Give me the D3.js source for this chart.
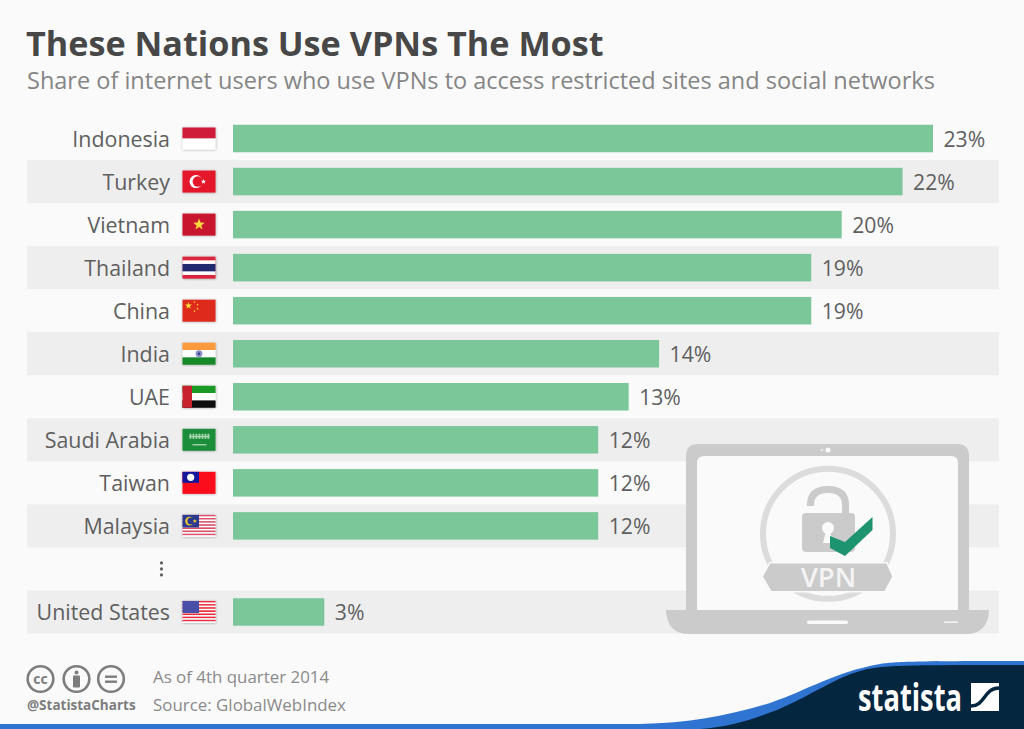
<!DOCTYPE html>
<html>
<head>
<meta charset="utf-8">
<script src="https://cdn.jsdelivr.net/npm/d3@7"></script>
<style>
html, body { margin: 0; padding: 0; background: #fafafa; overflow: hidden; }
svg { display: block; font-family: "Open Sans", sans-serif; }
</style>
</head>
<body>
<svg></svg>
<script>
const size = {w: 1024, h: 729};
const svg = d3.select('svg').attr('width', size.w).attr('height', size.h);

const countries = ['Indonesia', 'Turkey', 'Vietnam', 'Thailand', 'China', 'India', 'UAE',
    'Saudi Arabia', 'Taiwan', 'Malaysia', '...', 'United States'];
const shares = [23, 22, 20, 19, 19, 14, 13, 12, 12, 12, null, 3];
const rows = countries.map((c, i) => ({country: c, share: shares[i], idx: i}));

const titleText = 'These Nations Use VPNs The Most';
const subtitleText = 'Share of internet users who use VPNs to access restricted sites and social networks';
const footerLines = ['As of 4th quarter 2014', 'Source: GlobalWebIndex'];

const grey = '#5f5f5f';
const laptopGrey = '#cbcbcb';
const bgColor = '#fafafa';

// --------- SCALES ----------
const xScale = d3.scaleLinear().domain([0, 23]).range([233, 933]);
const yScale = d3.scaleBand().domain(countries).range([117, 633.5]).paddingInner(0).paddingOuter(0);
const barH = 27.5;

// --------- TITLE ----------
svg.append('text').attr('x', 26).attr('y', 56)
    .attr('font-size', 34.2).attr('font-weight', 700).attr('fill', '#474747')
    .text(titleText);
svg.append('text').attr('x', 27).attr('y', 88.5)
    .attr('font-size', 23.5).attr('fill', '#858585')
    .text(subtitleText);

// --------- ROWS ----------
const stripesG = svg.append('g').classed('stripes', true);
stripesG.selectAll('rect')
    .data(rows.filter(d => d.idx % 2 === 1))
    .join('rect')
    .attr('x', 27)
    .attr('width', 972)
    .attr('y', d => yScale(d.country))
    .attr('height', yScale.bandwidth())
    .attr('fill', '#eeeeee');

const barsG = svg.append('g').classed('bars', true);
barsG.selectAll('rect')
    .data(rows.filter(d => d.share !== null))
    .join('rect')
    .attr('x', xScale(0))
    .attr('width', d => xScale(d.share) - xScale(0))
    .attr('y', d => yScale(d.country) + (yScale.bandwidth() - barH) / 2)
    .attr('height', barH)
    .attr('fill', '#7bc79a');

const mid = d => yScale(d) + yScale.bandwidth() / 2;

svg.append('g').selectAll('text')
    .data(rows.filter(d => d.share !== null))
    .join('text')
    .attr('x', d => xScale(d.share) + 10.5)
    .attr('y', d => mid(d.country) + 8.2)
    .attr('font-size', 21.2)
    .attr('fill', grey)
    .text(d => d.share + '%');

svg.append('g').selectAll('text')
    .data(rows.filter(d => d.share !== null))
    .join('text')
    .attr('x', 170)
    .attr('y', d => mid(d.country) + 8.2)
    .attr('text-anchor', 'end')
    .attr('font-size', 21.4)
    .attr('fill', grey)
    .text(d => d.country);

// the three dots in the skipped row
svg.append('g').selectAll('circle')
    .data([-6, 0, 6])
    .join('circle')
    .attr('cx', 161.5)
    .attr('cy', d => mid('...') + d)
    .attr('r', 1.6)
    .attr('fill', grey);

// --------- FLAGS ----------
const flagW = 33, flagH = 22;
const defs = svg.append('defs');
defs.append('filter').attr('id', 'flagShadow')
    .attr('x', '-10%').attr('y', '-10%').attr('width', '120%').attr('height', '120%')
    .append('feDropShadow').attr('dx', 0.3).attr('dy', 0.3)
    .attr('stdDeviation', 0.8).attr('flood-color', '#000').attr('flood-opacity', 0.35);

function band(g, x, y, w, h, fill) {
    g.append('rect').attr('x', x).attr('y', y).attr('width', w).attr('height', h).attr('fill', fill);
}
function star(g, cx, cy, r, fill) {
    let pts = d3.range(10).map(i => {
        let a = -Math.PI / 2 + i * Math.PI / 5, rr = i % 2 ? r * 0.42 : r;
        return [cx + rr * Math.cos(a), cy + rr * Math.sin(a)];
    });
    g.append('polygon').attr('points', pts.join(' ')).attr('fill', fill);
}
function stripes(g, a, b) {
    d3.range(14).forEach(i => band(g, 0, i * flagH / 14, flagW, flagH / 14, i % 2 ? b : a));
}
const flagDraw = {
    'Indonesia': g => { band(g, 0, 0, flagW, 11, '#cf1b3a'); band(g, 0, 11, flagW, 11, '#ffffff'); },
    'Turkey': g => {
        band(g, 0, 0, flagW, flagH, '#e3152b');
        g.append('circle').attr('cx', 13.5).attr('cy', 11).attr('r', 6.5).attr('fill', '#fff');
        g.append('circle').attr('cx', 15.3).attr('cy', 11).attr('r', 5.2).attr('fill', '#e3152b');
        star(g, 21, 11, 2.6, '#fff');
    },
    'Vietnam': g => { band(g, 0, 0, flagW, flagH, '#c8182f'); star(g, 16.5, 11, 6, '#fbd83a'); },
    'Thailand': g => {
        band(g, 0, 0, flagW, flagH, '#d9273c');
        band(g, 0, 3.7, flagW, 14.6, '#ffffff');
        band(g, 0, 7.3, flagW, 7.4, '#232a6e');
    },
    'China': g => {
        band(g, 0, 0, flagW, flagH, '#de2c1e');
        star(g, 6, 6, 3.6, '#fbd83a');
        [[12, 2.4], [15, 5], [15, 9], [12, 11.5]].forEach(p => star(g, p[0], p[1], 1.2, '#fbd83a'));
    },
    'India': g => {
        band(g, 0, 0, flagW, 7.3, '#fb9a3c');
        band(g, 0, 7.3, flagW, 7.4, '#ffffff');
        band(g, 0, 14.7, flagW, 7.3, '#188a2a');
        g.append('circle').attr('cx', 16.5).attr('cy', 11).attr('r', 3.4).attr('fill', '#8a8fc4');
        g.append('circle').attr('cx', 16.5).attr('cy', 11).attr('r', 1.2).attr('fill', '#2d3a8c');
    },
    'UAE': g => {
        band(g, 0, 0, flagW, 7.3, '#1f9a28');
        band(g, 0, 7.3, flagW, 7.4, '#ffffff');
        band(g, 0, 14.7, flagW, 7.3, '#0a0a0a');
        band(g, 0, 0, 9.5, flagH, '#c8202f');
    },
    'Saudi Arabia': g => {
        band(g, 0, 0, flagW, flagH, '#1e8e3a');
        // blurred script and the sword
        [7, 10, 13, 16, 19, 22, 25].forEach(x => band(g, x, 5, 1.8, 5, '#a6d6ae'));
        band(g, 7, 7, 20, 1.5, '#a6d6ae');
        band(g, 10, 15.5, 14, 1, '#d6ecd9');
    },
    'Taiwan': g => {
        band(g, 0, 0, flagW, flagH, '#fb0f1c');
        band(g, 0, 0, 16.5, 11, '#14149a');
        g.append('circle').attr('cx', 8.2).attr('cy', 5.5).attr('r', 3.6).attr('fill', '#ffffff');
    },
    'Malaysia': g => {
        stripes(g, '#e0506a', '#ffffff');
        band(g, 0, 0, 16.5, 12.5, '#2a3a90');
        g.append('circle').attr('cx', 7).attr('cy', 6.2).attr('r', 4.3).attr('fill', '#f0c832');
        g.append('circle').attr('cx', 8.4).attr('cy', 6.2).attr('r', 3.5).attr('fill', '#2a3a90');
        star(g, 12.3, 6.2, 2.2, '#f0c832');
    },
    'United States': g => {
        stripes(g, '#ee2a3c', '#ffffff');
        band(g, 0, 0, 16.5, 12, '#4a4fa8');
    }
};
const flagsG = svg.append('g').classed('flags', true);
rows.filter(d => flagDraw[d.country]).forEach(d => {
    let g = flagsG.append('g')
        .attr('transform', `translate(182.5,${mid(d.country) - flagH / 2})`)
        .attr('filter', 'url(#flagShadow)');
    flagDraw[d.country](g);
});

// --------- LAPTOP ----------
const laptopG = svg.append('g').classed('laptop', true);
laptopG.append('path')
    .attr('d', 'M686,611 V456 Q686,444 698,444 H957 Q969,444 969,456 V611 Z')
    .attr('fill', laptopGrey);
laptopG.append('path')
    .attr('d', 'M697,611 V463 Q697,456 704,456 H951 Q958,456 958,463 V611 Z')
    .attr('fill', bgColor);
laptopG.append('path')
    .attr('d', 'M666,610 H989 Q988,634 966,634 H689 Q667,634 666,610 Z')
    .attr('fill', laptopGrey);
laptopG.append('rect').attr('x', 807).attr('y', 620.5).attr('width', 41).attr('height', 3.4).attr('rx', 1.7).attr('fill', bgColor);
laptopG.append('rect').attr('x', 944).attr('y', 621.5).attr('width', 14).attr('height', 1.4).attr('fill', bgColor);
laptopG.append('circle').attr('cx', 828).attr('cy', 450).attr('r', 2.5).attr('fill', bgColor);
laptopG.append('circle').attr('cx', 822).attr('cy', 450).attr('r', 0.9).attr('fill', bgColor);

// badge ring
laptopG.append('circle').attr('cx', 828).attr('cy', 533.8).attr('r', 65)
    .attr('fill', 'none').attr('stroke', '#dcdcdc').attr('stroke-width', 6);
// padlock, shackle open on the left
laptopG.append('path')
    .attr('d', 'M810.5,506 V505 Q810.5,489.5 828,489.5 Q845.5,489.5 845.5,505 V514')
    .attr('fill', 'none').attr('stroke', laptopGrey).attr('stroke-width', 7);
laptopG.append('path')
    .attr('d', 'M806,513 H851 Q855,513 855,517 V548 Q855,552 851,552 H806 Q802,552 802,548 V517 Q802,513 806,513 Z')
    .attr('fill', laptopGrey);
laptopG.append('circle').attr('cx', 828).attr('cy', 528).attr('r', 6).attr('fill', bgColor);
laptopG.append('path').attr('d', 'M826,531 H830 L832.5,543 H823 Z').attr('fill', bgColor);
// check mark
laptopG.append('path')
    .attr('d', 'M830,536 L845,542 L872.5,517 V530 L845,556 L830,548 Z')
    .attr('fill', '#1e9370');
// banner
laptopG.append('path')
    .attr('d', 'M770,562.7 H887 L893,576.5 L885,591.7 H771 L762,576.5 Z')
    .attr('fill', laptopGrey)
    .attr('stroke', bgColor).attr('stroke-width', 1.5);
laptopG.append('text').attr('x', 828.5).attr('y', 587).attr('text-anchor', 'middle')
    .attr('font-size', 27.5).attr('font-weight', 600).attr('fill', '#f4f4f4').text('VPN');

// --------- FOOTER ----------
const footerG = svg.append('g').classed('footer', true);
[[40.5, 'cc'], [76.5, 'by'], [111, 'nd']].forEach(([cx, kind]) => {
    let g = footerG.append('g').attr('transform', `translate(${cx},679)`);
    g.append('circle').attr('r', 12.8).attr('fill', 'none').attr('stroke', '#7d7d7d').attr('stroke-width', 2.6);
    if (kind === 'cc') {
        g.append('text').attr('y', 4.5).attr('text-anchor', 'middle').attr('font-size', 14)
            .attr('font-weight', 700).attr('fill', '#7d7d7d').text('cc');
    } else if (kind === 'by') {
        g.append('circle').attr('cy', -6.5).attr('r', 2).attr('fill', '#7d7d7d');
        g.append('rect').attr('x', -3.5).attr('y', -3.5).attr('width', 7).attr('height', 12).attr('rx', 1).attr('fill', '#7d7d7d');
    } else {
        g.append('rect').attr('x', -6).attr('y', -3.5).attr('width', 12).attr('height', 2.4).attr('fill', '#7d7d7d');
        g.append('rect').attr('x', -6).attr('y', 1.5).attr('width', 12).attr('height', 2.4).attr('fill', '#7d7d7d');
    }
});
footerG.append('text').attr('x', 27).attr('y', 710)
    .attr('font-size', 13.5).attr('font-weight', 700).attr('fill', '#7d7d7d').text('@StatistaCharts');
footerG.selectAll('text.src')
    .data(footerLines)
    .join('text')
    .classed('src', true)
    .attr('x', 153)
    .attr('y', (d, i) => 683 + i * 27.5)
    .attr('font-size', 16.9)
    .attr('fill', '#8a8a8a')
    .text(d => d);

// --------- BRAND BAND ----------
const brandG = svg.append('g').classed('brand', true);
brandG.append('path')
    .attr('d', 'M0,724 H640 C690,723 730,715 770,703 C810,689 835,672 880,664 C895,661.5 920,661 1024,661 V729 H0 Z')
    .attr('fill', '#2f74d0');
brandG.append('path')
    .attr('d', 'M700,729 C730,727 750,720 777,710 C810,696 835,678 860,671 C880,665 905,665 1024,665 V729 Z')
    .attr('fill', '#04263f');
brandG.append('text').attr('x', 858).attr('y', 710.5)
    .attr('font-size', 37).attr('font-weight', 700).attr('fill', '#ffffff')
    .attr('textLength', 104).attr('lengthAdjust', 'spacingAndGlyphs')
    .text('statista');
brandG.append('rect').attr('x', 971).attr('y', 683).attr('width', 28).attr('height', 28).attr('fill', '#ffffff');
brandG.append('path')
    .attr('d', 'M971,706 C985,706 984,688 999,688')
    .attr('fill', 'none').attr('stroke', '#04263f').attr('stroke-width', 3.5);
</script>
</body>
</html>
